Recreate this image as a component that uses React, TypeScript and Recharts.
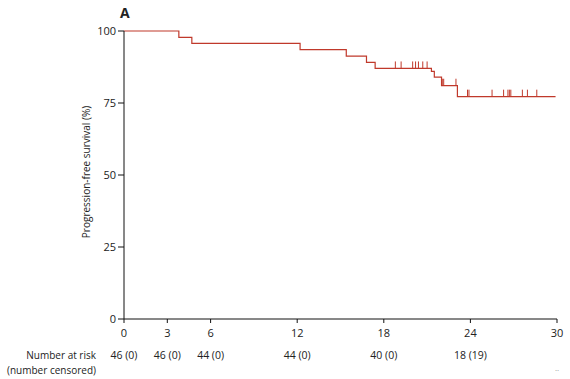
import { ComposedChart, Line, Scatter, XAxis, YAxis } from "recharts";

// Kaplan-Meier step curve (months, % progression-free)
const stepMonths = [0, 3.8, 4.7, 12.2, 15.4, 16.8, 17.4, 21.3, 21.5, 22.0, 23.1, 29.9];
const stepSurvival = [100, 97.8, 95.7, 93.5, 91.3, 89.1, 87.0, 86.0, 84.0, 81.0, 77.2, 77.2];

// censored observations
const censorMonths = [
  18.8, 19.2, 20.0, 20.2, 20.4, 20.7, 21.0, 22.05, 22.15, 23.0, 23.8, 23.9, 25.5, 26.3,
  26.6, 26.7, 26.8, 27.6, 27.95, 28.6,
];
const censorSurvival = [
  87.0, 87.0, 87.0, 87.0, 87.0, 87.0, 87.0, 81.0, 81.0, 81.0, 77.2, 77.2, 77.2, 77.2,
  77.2, 77.2, 77.2, 77.2, 77.2, 77.2,
];

const xTicks = [0, 3, 6, 12, 18, 24, 30];
const yTicks = [0, 25, 50, 75, 100];
const atRisk = ["46 (0)", "46 (0)", "44 (0)", "44 (0)", "40 (0)", "18 (19)", ".."];

const curve = stepMonths.map((t, i) => ({ t, s: stepSurvival[i] }));
const censored = censorMonths.map((t, i) => ({ t, c: censorSurvival[i] }));

const FONT = "'Open Sans', 'Liberation Sans', sans-serif";
const RED = "#c0392b";

function CensorTick(props: any) {
  const { cx, cy } = props;
  if (cx == null || cy == null) return null;
  return <line x1={cx} x2={cx} y1={cy} y2={cy - 7} stroke={RED} strokeWidth={1} />;
}

function MonthTick(props: any) {
  const { x, y, payload, index } = props;
  const i = xTicks.indexOf(payload.value);
  const risk = atRisk[i];
  return (
    <g>
      <text x={x} y={y + 12} textAnchor="middle" fontSize={11} fill="#222" fontFamily={FONT}>
        {payload.value}
      </text>
      {risk === ".." ? (
        <text x={x} y={y + 46} textAnchor="middle" fontSize={8} fill="#999" fontFamily={FONT}>
          ..
        </text>
      ) : (
        <text x={x} y={y + 34} textAnchor="middle" fontSize={10.5} fill="#222" fontFamily={FONT}>
          {risk}
        </text>
      )}
      {index === 0 && (
        <g>
          <text x={x - 28} y={y + 34} textAnchor="end" fontSize={10} fill="#222" fontFamily={FONT}>
            Number at risk
          </text>
          <text x={x - 28} y={y + 49} textAnchor="end" fontSize={10} fill="#222" fontFamily={FONT}>
            (number censored)
          </text>
        </g>
      )}
    </g>
  );
}

function YLabel(props: any) {
  const { viewBox } = props;
  const cx = viewBox.x + viewBox.width - 38;
  const cy = viewBox.y + viewBox.height / 2 - 3;
  return (
    <text
      x={cx}
      y={cy}
      transform={`rotate(-90 ${cx} ${cy})`}
      textAnchor="middle"
      dominantBaseline="central"
      fontSize={10}
      fill="#222"
      fontFamily={FONT}
    >
      Progression-free survival (%)
    </text>
  );
}

export default function App() {
  return (
    <div style={{ position: "absolute", left: 0, top: 0, width: 570, height: 379, background: "#fff" }}>
      <div
        style={{
          position: "absolute",
          left: 120,
          top: 3,
          fontFamily: FONT,
          fontWeight: 700,
          fontSize: 14,
          color: "#222",
        }}
      >
        A
      </div>
      <ComposedChart
        width={570}
        height={379}
        margin={{ top: 31, right: 13, bottom: 0, left: 0 }}
      >
        <XAxis
          dataKey="t"
          type="number"
          domain={[0, 30]}
          ticks={xTicks}
          allowDataOverflow
          height={60}
          stroke="#111"
          tickSize={4}
          tick={<MonthTick />}
          interval={0}
        />
        <YAxis
          type="number"
          domain={[0, 100]}
          ticks={yTicks}
          width={124}
          stroke="#111"
          tickSize={6}
          tick={{ fontSize: 11, fill: "#222", fontFamily: FONT }}
          label={<YLabel />}
          padding={{ top: 0, bottom: 0 }}
        />
        <Line
          data={curve}
          dataKey="s"
          type="stepAfter"
          stroke={RED}
          strokeWidth={1.2}
          dot={false}
          activeDot={false}
          isAnimationActive={false}
        />
        <Scatter
          data={censored}
          dataKey="c"
          shape={<CensorTick />}
          isAnimationActive={false}
        />
      </ComposedChart>
    </div>
  );
}
